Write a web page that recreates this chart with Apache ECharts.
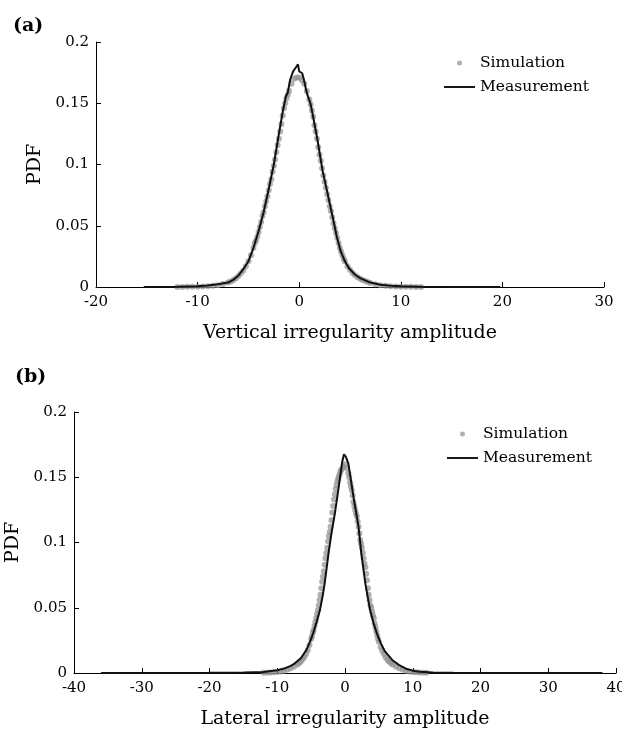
<!DOCTYPE html>
<html>
<head>
<meta charset="utf-8">
<script src="https://cdn.jsdelivr.net/npm/echarts@6/dist/echarts.min.js"></script>
<style>
  html, body { margin: 0; padding: 0; background: #fff; }
  #chart { width: 622px; height: 730px; }
</style>
</head>
<body>
<div id="chart"></div>
<script>
const panelTitles = ['(a)', '(b)'];
const xNames = ['Vertical irregularity amplitude', 'Lateral irregularity amplitude'];
const seriesNames = ['Simulation', 'Measurement'];

// (a) simulated pdf, [amplitude, pdf]
const simA = [
  [-12, 0.0001], [-11.5, 0.0001], [-11, 0.0002], [-10.5, 0.0002], [-10, 0.0003],
  [-9.5, 0.0005], [-9, 0.0007], [-8.5, 0.0010], [-8, 0.0015], [-7.5, 0.0024],
  [-7, 0.0036], [-6.75, 0.0044], [-6.5, 0.0056], [-6.25, 0.0070], [-6, 0.0088],
  [-5.75, 0.0110], [-5.5, 0.0135], [-5.25, 0.0170], [-5, 0.0210], [-4.75, 0.0260],
  [-4.5, 0.0320], [-4.375, 0.0360], [-4.25, 0.0380], [-4.125, 0.0410], [-4, 0.0450],
  [-3.875, 0.0490], [-3.75, 0.0530], [-3.625, 0.0580], [-3.5, 0.0610], [-3.375, 0.0660],
  [-3.25, 0.0700], [-3.125, 0.0740], [-3, 0.0790], [-2.875, 0.0840], [-2.75, 0.0880],
  [-2.625, 0.0940], [-2.5, 0.0990], [-2.375, 0.1040], [-2.25, 0.1100], [-2.125, 0.1160],
  [-2, 0.1210], [-1.875, 0.1270], [-1.75, 0.1330], [-1.625, 0.1400], [-1.5, 0.1460],
  [-1.375, 0.1500], [-1.25, 0.1540], [-1.125, 0.1570], [-1, 0.1600], [-0.75, 0.1660],
  [-0.5, 0.1700], [-0.25, 0.1710], [0, 0.1710], [0.25, 0.1690], [0.5, 0.1660],
  [0.75, 0.1600], [1, 0.1530], [1.125, 0.1490], [1.25, 0.1440], [1.375, 0.1390],
  [1.5, 0.1320], [1.625, 0.1270], [1.75, 0.1210], [1.875, 0.1140], [2, 0.1080],
  [2.125, 0.1030], [2.25, 0.0970], [2.375, 0.0910], [2.5, 0.0860], [2.625, 0.0810],
  [2.75, 0.0760], [2.875, 0.0710], [3, 0.0660], [3.125, 0.0620], [3.25, 0.0570],
  [3.375, 0.0520], [3.5, 0.0480], [3.625, 0.0440], [3.75, 0.0400], [3.875, 0.0360],
  [4, 0.0320], [4.125, 0.0290], [4.25, 0.0260], [4.375, 0.0230], [4.5, 0.0210],
  [4.75, 0.0170], [5, 0.0140], [5.25, 0.0115], [5.5, 0.0095], [5.75, 0.0080],
  [6, 0.0068], [6.25, 0.0057], [6.5, 0.0048], [6.75, 0.0040], [7, 0.0033],
  [7.5, 0.0023], [8, 0.0015], [8.5, 0.0010], [9, 0.0007], [9.5, 0.0005],
  [10, 0.0003], [10.5, 0.0002], [11, 0.0002], [11.5, 0.0001], [12, 0.0001]
];

// (a) measured pdf
const measA = [
  [-15.3, 0.0000], [-12, 0.0002], [-10, 0.0006], [-9, 0.0012], [-8, 0.0022],
  [-7, 0.0036], [-6.5, 0.0058], [-6, 0.0092], [-5.5, 0.0145], [-5, 0.0210],
  [-4.5, 0.0320], [-4, 0.0455], [-3.5, 0.0610], [-3, 0.0800], [-2.5, 0.1000],
  [-2, 0.1250], [-1.6, 0.1440], [-1.3, 0.1560], [-1.15, 0.1580], [-1.05, 0.1620],
  [-0.9, 0.1690], [-0.6, 0.1760], [-0.45, 0.1770], [-0.35, 0.1790], [-0.2, 0.1780],
  [-0.12, 0.1818], [0, 0.1760], [0.15, 0.1770], [0.3, 0.1745], [0.5, 0.1680],
  [0.65, 0.1620], [0.8, 0.1570], [0.95, 0.1560], [1.1, 0.1500], [1.3, 0.1420],
  [1.8, 0.1200], [2.3, 0.0950], [2.8, 0.0760], [3.3, 0.0570], [3.7, 0.0410],
  [4.1, 0.0288], [4.5, 0.0210], [4.9, 0.0153], [5.5, 0.0100], [6, 0.0072],
  [7, 0.0036], [8, 0.0018], [9, 0.0010], [10, 0.0006], [12, 0.0003],
  [15, 0.0001], [19.8, 0.0000]
];

// (b) simulated pdf
const simB = [
  [-12, 0.0001], [-11.5, 0.0002], [-11, 0.0003], [-10.5, 0.0005], [-10, 0.0008],
  [-9.5, 0.0012], [-9, 0.0018], [-8.5, 0.0026], [-8, 0.0036], [-7.5, 0.0050],
  [-7, 0.0066], [-6.75, 0.0077], [-6.5, 0.0090], [-6.25, 0.0105], [-6, 0.0122],
  [-5.75, 0.0145], [-5.5, 0.0175], [-5.25, 0.0215], [-5, 0.0260], [-4.875, 0.0280],
  [-4.75, 0.0310], [-4.625, 0.0330], [-4.5, 0.0360], [-4.375, 0.0390], [-4.25, 0.0420],
  [-4.125, 0.0450], [-4, 0.0480], [-3.875, 0.0520], [-3.75, 0.0560], [-3.625, 0.0600],
  [-3.5, 0.0650], [-3.375, 0.0700], [-3.25, 0.0740], [-3.125, 0.0780], [-3, 0.0830],
  [-2.875, 0.0880], [-2.75, 0.0920], [-2.625, 0.0960], [-2.5, 0.1010], [-2.375, 0.1050],
  [-2.25, 0.1080], [-2.125, 0.1120], [-2, 0.1170], [-1.875, 0.1230], [-1.75, 0.1280],
  [-1.625, 0.1330], [-1.5, 0.1370], [-1.375, 0.1410], [-1.25, 0.1440], [-1.125, 0.1470],
  [-1, 0.1490], [-0.875, 0.1510], [-0.75, 0.1530], [-0.625, 0.1550], [-0.5, 0.1560],
  [-0.25, 0.1580], [0, 0.1600], [0.25, 0.1570], [0.5, 0.1530], [0.625, 0.1500],
  [0.75, 0.1460], [0.875, 0.1430], [1, 0.1400], [1.125, 0.1360], [1.25, 0.1310],
  [1.375, 0.1280], [1.5, 0.1250], [1.625, 0.1220], [1.75, 0.1200], [1.875, 0.1160],
  [2, 0.1120], [2.125, 0.1070], [2.25, 0.1020], [2.375, 0.0990], [2.5, 0.0960],
  [2.625, 0.0920], [2.75, 0.0880], [2.875, 0.0840], [3, 0.0810], [3.125, 0.0760],
  [3.25, 0.0710], [3.375, 0.0650], [3.5, 0.0600], [3.625, 0.0560], [3.75, 0.0520],
  [3.875, 0.0500], [4, 0.0470], [4.125, 0.0440], [4.25, 0.0420], [4.375, 0.0380],
  [4.5, 0.0350], [4.625, 0.0320], [4.75, 0.0290], [4.875, 0.0260], [5, 0.0240],
  [5.25, 0.0200], [5.5, 0.0170], [5.75, 0.0145], [6, 0.0120], [6.25, 0.0102],
  [6.5, 0.0088], [6.75, 0.0076], [7, 0.0066], [7.5, 0.0050], [8, 0.0036],
  [8.5, 0.0026], [9, 0.0018], [9.5, 0.0012], [10, 0.0008], [10.5, 0.0005],
  [11, 0.0003], [11.5, 0.0002], [12, 0.0001]
];

// (b) measured pdf
const measB = [
  [-36, 0.0000], [-20, 0.0001], [-15, 0.0003], [-12, 0.0008], [-10, 0.0021],
  [-9, 0.0034], [-8, 0.0055], [-7.4, 0.0074], [-6.5, 0.0115], [-5.7, 0.0176],
  [-5.2, 0.0235], [-4.7, 0.0304], [-4.2, 0.0390], [-3.7, 0.0482], [-3.3, 0.0590],
  [-3, 0.0687], [-2.4, 0.0930], [-2, 0.1070], [-1.5, 0.1222], [-1, 0.1400],
  [-0.7, 0.1510], [-0.4, 0.1620], [-0.15, 0.1676], [0.1, 0.1660], [0.5, 0.1605],
  [1.25, 0.1350], [2, 0.1120], [2.4, 0.0920], [3, 0.0687], [3.7, 0.0482],
  [4.2, 0.0385], [4.7, 0.0304], [5.3, 0.0225], [5.9, 0.0165], [7, 0.0098],
  [8, 0.0060], [9, 0.0033], [10, 0.0018], [11, 0.0010], [13, 0.0004],
  [16, 0.0001], [20, 0.0000], [38, 0.0000]
];

const font = 'DejaVu Serif';

const makeX = (idx, min, max, name) => ({
  type: 'value',
  gridIndex: idx,
  min: min,
  max: max,
  interval: 10,
  name: name,
  nameLocation: 'middle',
  nameGap: 37,
  nameTextStyle: { color: '#000', fontFamily: font, fontSize: 19 },
  axisLine: { show: true, lineStyle: { color: '#000', width: 1 } },
  axisTick: { show: true, inside: true, length: 5, lineStyle: { color: '#000' } },
  axisLabel: { color: '#000', fontFamily: font, fontSize: 15, margin: 8 },
  splitLine: { show: false }
});

const makeY = (idx, gap) => ({
  type: 'value',
  gridIndex: idx,
  min: 0,
  max: 0.2,
  interval: 0.05,
  name: 'PDF',
  nameLocation: 'middle',
  nameGap: gap,
  nameTextStyle: { color: '#000', fontFamily: font, fontSize: 19 },
  axisLine: { show: true, onZero: false, lineStyle: { color: '#000', width: 1 } },
  axisTick: { show: true, inside: true, length: 5, lineStyle: { color: '#000' } },
  axisLabel: { color: '#000', fontFamily: font, fontSize: 15, margin: 7 },
  splitLine: { show: false }
});

const makeLegend = (left, top, gap) => ({
  left: left,
  top: top,
  padding: 0,
  orient: 'vertical',
  itemWidth: 31,
  itemHeight: 5,
  itemGap: gap,
  data: [
    { name: seriesNames[0], icon: 'circle' },
    { name: seriesNames[1], icon: 'path://M0,0H32V2H0Z' }
  ],
  selectedMode: false,
  textStyle: { color: '#000', fontFamily: font, fontSize: 15.5 }
});

const simStyle = { color: 'rgba(145,145,145,0.9)' };
const measStyle = { color: '#111', width: 2 };

let option = {
  animation: false,
  backgroundColor: '#fff',
  title: [
    { text: panelTitles[0], left: 8, top: 12, textStyle: { fontFamily: font, fontWeight: 'bold', fontSize: 19, color: '#000' } },
    { text: panelTitles[1], left: 10, top: 363, textStyle: { fontFamily: font, fontWeight: 'bold', fontSize: 19, color: '#000' } }
  ],
  legend: [makeLegend(444, 55, 8), makeLegend(447, 426, 8)],
  grid: [
    { left: 96, right: 18, top: 42, height: 245, containLabel: false, outerBoundsMode: 'none' },
    { left: 74, right: 6, top: 412, height: 261, containLabel: false, outerBoundsMode: 'none' }
  ],
  xAxis: [makeX(0, -20, 30, xNames[0]), makeX(1, -40, 40, xNames[1])],
  yAxis: [makeY(0, 43), makeY(1, 51)],
  series: [
    { name: seriesNames[0], type: 'scatter', xAxisIndex: 0, yAxisIndex: 0, data: simA,
      symbolSize: 6, itemStyle: simStyle, z: 2 },
    { name: seriesNames[1], type: 'line', xAxisIndex: 0, yAxisIndex: 0, data: measA,
      showSymbol: false, symbol: 'none', lineStyle: measStyle, itemStyle: { color: '#111' }, z: 3 },
    { name: seriesNames[0], type: 'scatter', xAxisIndex: 1, yAxisIndex: 1, data: simB,
      symbolSize: 6, itemStyle: simStyle, z: 2 },
    { name: seriesNames[1], type: 'line', xAxisIndex: 1, yAxisIndex: 1, data: measB,
      showSymbol: false, symbol: 'none', lineStyle: measStyle, itemStyle: { color: '#111' }, z: 3 }
  ]
};

const chart = echarts.init(document.getElementById('chart'));
chart.setOption(option);
</script>
</body>
</html>
